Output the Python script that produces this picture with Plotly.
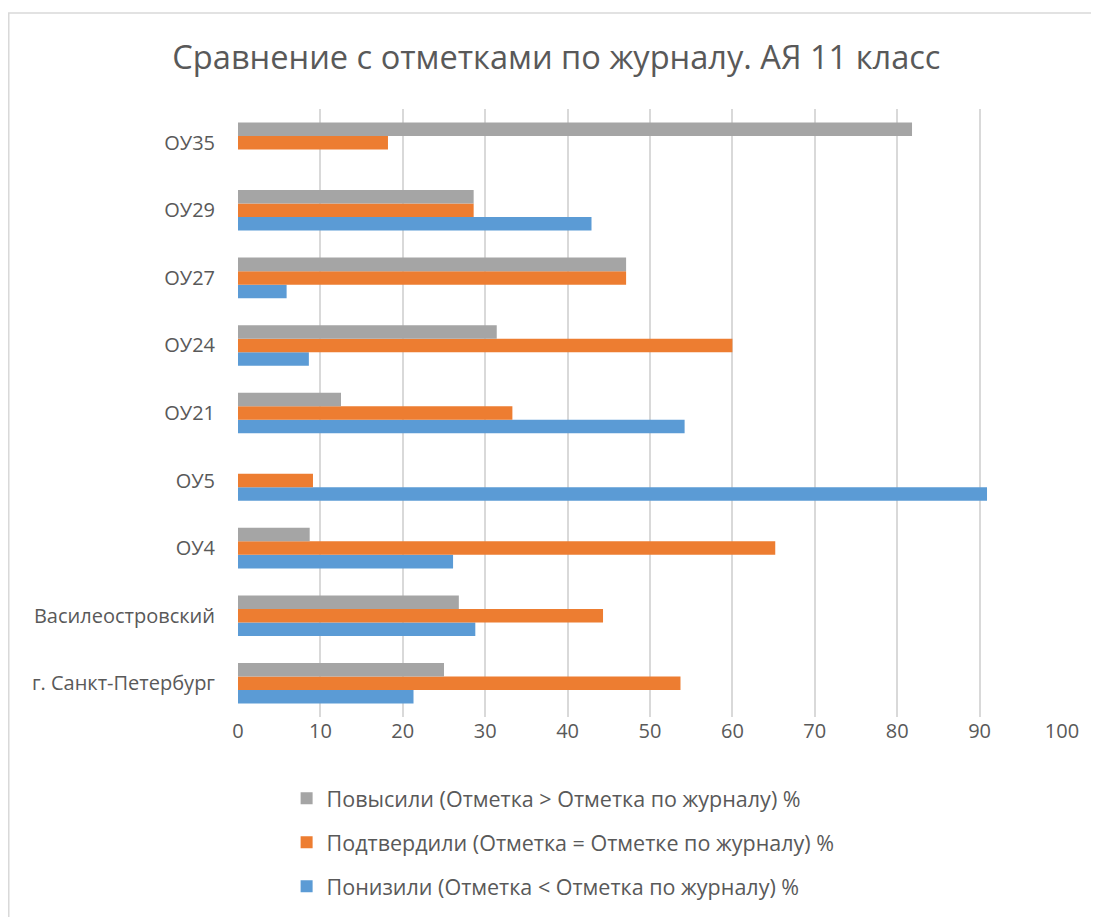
import plotly.graph_objects as go

# categories bottom -> top
schools = ["г. Санкт-Петербург", "Василеостровский", "ОУ4", "ОУ5", "ОУ21",
           "ОУ24", "ОУ27", "ОУ29", "ОУ35"]

lowered = [21.3, 28.8, 26.1, 90.9, 54.2, 8.6, 5.9, 42.9, None]
confirmed = [53.7, 44.3, 65.2, 9.1, 33.3, 60.0, 47.1, 28.6, 18.2]
raised = [25.0, 26.8, 8.7, None, 12.5, 31.4, 47.1, 28.6, 81.8]

names = ["Понизили (Отметка < Отметка по журналу) %",
         "Подтвердили (Отметка = Отметке по журналу) %",
         "Повысили (Отметка > Отметка по журналу) %"]
colors = ["#5B9BD5", "#ED7D31", "#A5A5A5"]

font_name = "Open Sans"
txt = "#595959"

fig = go.Figure()
for i, vals in enumerate([lowered, confirmed, raised]):
    fig.add_trace(go.Bar(
        y=schools, x=vals, orientation="h", name=names[i],
        marker=dict(color=colors[i], line=dict(width=0)),
        legendgroup=str(i), legendrank=3 - i,
    ))

fig.update_layout(
    width=1099, height=917,
    paper_bgcolor="white", plot_bgcolor="white",
    barmode="group", bargap=0.4, bargroupgap=0,
    margin=dict(l=230, r=45, t=101, b=208),
    title=dict(text="Сравнение с отметками по журналу. АЯ 11 класс",
               x=0.499, xanchor="center", y=0.9455, yanchor="middle",
               font=dict(family=font_name, size=32.6, color=txt)),
    font=dict(family=font_name, color=txt),
    xaxis=dict(range=[0, 100], dtick=10, showgrid=True, gridcolor="#D9D9D9",
               gridwidth=1.5, zeroline=False, showline=False,
               tickfont=dict(size=20, color=txt), ticks="", ticklen=0),
    yaxis=dict(showgrid=False, zeroline=False, showline=False,
               tickfont=dict(size=20, color=txt), ticks="outside",
               ticklen=18, tickcolor="rgba(0,0,0,0)"),
    legend=dict(x=0.059, y=-0.1, xanchor="left", yanchor="top",
                traceorder="grouped", tracegroupgap=13,
                font=dict(size=21.5, color=txt), itemwidth=30),
    showlegend=True,
)

fig.add_shape(type="rect", xref="paper", yref="paper",
              x0=-0.2782, x1=1.07, y0=-0.36, y1=1.158,
              line=dict(color="#D9D9D9", width=1.5), layer="below")

fig.write_html("out.html")
